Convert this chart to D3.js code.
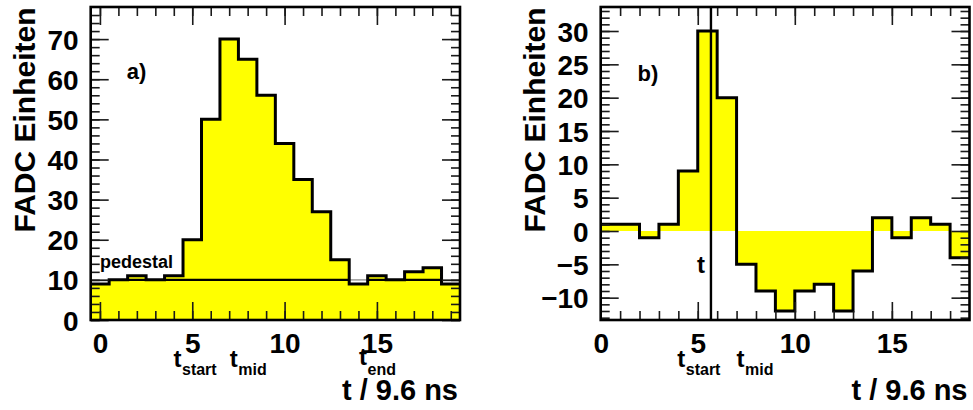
<!DOCTYPE html>
<html>
<head>
<meta charset="utf-8">
<script src="https://cdn.jsdelivr.net/npm/d3@7/dist/d3.min.js"></script>
<style>
  html, body { margin: 0; padding: 0; background: #fff; }
  svg { display: block; }
  text { font-family: "Liberation Sans", Arial, Helvetica, sans-serif; font-weight: bold; fill: #000; }
</style>
</head>
<body>
<svg id="chart" width="973" height="410"></svg>
<script>
// ---- data ----
// a) raw FADC samples, one bin per sample (bins centred on the sample index)
const samplesA = [9, 10, 11, 10, 11, 20, 50, 70, 65, 56, 44, 35, 27, 15, 9, 11, 10, 12, 13, 9];
const pedestal = 10;
// b) pulse after processing, bins starting at the sample index
const samplesB = [1, 1, -1, 1, 9, 30, 20, -5, -9, -12, -9, -8, -12, -6, 2, -1, 2, 1, -4];
const tMarker = 5.68;

const xTickLabels = [0, 5, 10, 15];
const yTickLabelsA = [0, 10, 20, 30, 40, 50, 60, 70];
const yTickLabelsB = [-10, -5, 0, 5, 10, 15, 20, 25, 30];

const timeLabelsA = [
  { base: "t", sub: "start", x: 4.2, lift: 0 },
  { base: "t", sub: "mid", x: 7.25, lift: 0 },
  { base: "t", sub: "end", x: 14.25, lift: 2 }
];
const timeLabelsB = [
  { base: "t", sub: "start", x: 4.15, lift: 0 },
  { base: "t", sub: "mid", x: 7.2, lift: 0 }
];

const svg = d3.select("#chart");
const TOP = 7, BOTTOM = 320;

function panel(opt) {
  const g = svg.append("g");
  const x = d3.scaleLinear().domain(opt.xDomain).range([opt.left, opt.right]);
  const y = d3.scaleLinear().domain(opt.yDomain).range([BOTTOM, TOP]);

  const clipId = "clip-" + opt.name;
  svg.append("clipPath").attr("id", clipId)
    .append("rect").attr("x", opt.left).attr("y", TOP)
    .attr("width", opt.right - opt.left).attr("height", BOTTOM - TOP);

  const plot = g.append("g").attr("clip-path", `url(#${clipId})`);

  // step points: left edge of each bin, plus closing right edge
  const pts = opt.values.map((v, i) => [opt.edge(i), v]);
  pts.push([opt.edge(opt.values.length), opt.values[opt.values.length - 1]]);

  const area = d3.area().curve(d3.curveStepAfter)
    .x(d => x(d[0])).y0(y(0)).y1(d => y(d[1]));
  const line = d3.line().curve(d3.curveStepAfter)
    .x(d => x(d[0])).y(d => y(d[1]));

  plot.append("path").attr("d", area(pts)).attr("fill", "#ffff00");
  opt.extra && opt.extra(plot, x, y, area, pts);
  plot.append("path").attr("d", line(pts))
    .attr("fill", "none").attr("stroke", "#000").attr("stroke-width", 3)
    .attr("stroke-linejoin", "miter");
  opt.over && opt.over(plot, x, y);

  // ticks on all four sides, pointing inward
  const tickStyle = sel => {
    sel.select(".domain").remove();
    sel.selectAll("line").attr("stroke", "#1a1a1a").attr("stroke-width", 1.6);
    sel.selectAll("text").remove();
  };
  const addTicks = (axisFn, pos, scale, values, len) => {
    const a = axisFn(scale).tickValues(values).tickSize(-len).tickFormat("");
    const t = g.append("g").attr("transform", pos).call(a);
    tickStyle(t);
  };
  [[d3.axisBottom, `translate(0,${BOTTOM})`], [d3.axisTop, `translate(0,${TOP})`]].forEach(([fn, pos]) => {
    addTicks(fn, pos, x, opt.xMinor, 9);
    addTicks(fn, pos, x, xTickLabels, 18);
  });
  [[d3.axisLeft, `translate(${opt.left},0)`], [d3.axisRight, `translate(${opt.right},0)`]].forEach(([fn, pos]) => {
    addTicks(fn, pos, y, opt.yMinor, 9);
    addTicks(fn, pos, y, opt.yMajor, 18);
  });

  // frame
  g.append("rect").attr("x", opt.left).attr("y", TOP)
    .attr("width", opt.right - opt.left).attr("height", BOTTOM - TOP)
    .attr("fill", "none").attr("stroke", "#000").attr("stroke-width", 2.6);

  // tick labels
  const xl = g.append("g").attr("transform", `translate(0,${BOTTOM})`)
    .call(d3.axisBottom(x).tickValues(xTickLabels).tickSize(0).tickPadding(13).tickFormat(d3.format("d")));
  xl.select(".domain").remove();
  xl.selectAll("text").attr("font-size", 28).style("font-family", null).attr("font-family", null);

  const yl = g.append("g").attr("transform", `translate(${opt.left},0)`)
    .call(d3.axisLeft(y).tickValues(opt.yMajor).tickSize(0).tickPadding(12).tickFormat(d3.format("d")));
  yl.select(".domain").remove();
  yl.selectAll("text").attr("font-size", 28).attr("dy", "0.36em").attr("font-family", null);

  // axis titles
  g.append("text").attr("transform", `translate(${opt.left - 55.5},120) rotate(-90)`)
    .attr("text-anchor", "middle").attr("font-size", 30).text("FADC Einheiten");
  g.append("text").attr("x", opt.right - 2).attr("y", 400)
    .attr("text-anchor", "end").attr("font-size", 29).text("t / 9.6 ns");

  // panel tag
  g.append("text").attr("x", x(opt.tag.x)).attr("y", y(opt.tag.y))
    .attr("font-size", 22).text(opt.tag.text);

  // time labels with subscripts
  opt.times.forEach(d => {
    const t = g.append("text").attr("x", x(d.x) - 4).attr("y", 367 - d.lift);
    t.append("tspan").attr("font-size", 24).text(d.base);
    t.append("tspan").attr("font-size", 16).attr("dy", 8 + d.lift).attr("dx", 0.5).text(d.sub);
  });

  return { g, x, y };
}

// ---- panel a ----
panel({
  name: "a", left: 90.7, right: 460,
  xDomain: [-0.5, 19.5], yDomain: [0, 78],
  values: samplesA, edge: i => i - 0.5,
  xMinor: d3.range(0, 20), yMinor: d3.range(0, 78, 2), yMajor: yTickLabelsA,
  tag: { text: "a)", x: 1.45, y: 60 },
  times: timeLabelsA,
  extra: (plot, x, y, area, pts) => {
    // pedestal level: faint where it runs above the samples, solid inside the pulse
    plot.append("line").attr("x1", x(-0.5)).attr("x2", x(19.5))
      .attr("y1", y(pedestal)).attr("y2", y(pedestal))
      .attr("stroke", "#a8a8a8").attr("stroke-width", 1.6);
    svg.append("clipPath").attr("id", "clip-fillA")
      .append("path").attr("d", area(pts));
    plot.append("line").attr("x1", x(-0.5)).attr("x2", x(19.5))
      .attr("y1", y(pedestal)).attr("y2", y(pedestal))
      .attr("clip-path", "url(#clip-fillA)")
      .attr("stroke", "#000").attr("stroke-width", 2.4);
  },
  over: (plot, x, y) => {
    svg.append("text").attr("x", x(0)).attr("y", y(pedestal + 3))
      .attr("font-size", 18).text("pedestal");
  }
});

// ---- panel b ----
panel({
  name: "b", left: 600.7, right: 969.5,
  xDomain: [0, 19], yDomain: [-13.35, 33.6],
  values: samplesB, edge: i => i,
  xMinor: d3.range(1, 19), yMinor: d3.range(-13, 34, 1), yMajor: yTickLabelsB,
  tag: { text: "b)", x: 1.9, y: 22.5 },
  times: timeLabelsB,
  over: (plot, x, y) => {
    plot.append("line").attr("x1", x(tMarker)).attr("x2", x(tMarker))
      .attr("y1", TOP).attr("y2", BOTTOM)
      .attr("stroke", "#000").attr("stroke-width", 2.4);
    svg.append("text").attr("x", x(tMarker) - 6).attr("y", 273)
      .attr("text-anchor", "end").attr("font-size", 24).text("t");
  }
});
</script>
</body>
</html>
